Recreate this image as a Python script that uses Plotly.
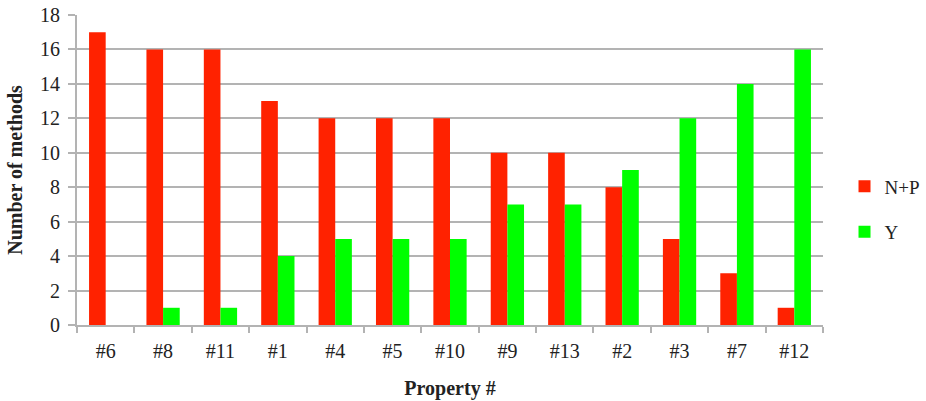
import plotly.graph_objects as go

properties = ["#6", "#8", "#11", "#1", "#4", "#5", "#10", "#9", "#13", "#2", "#3", "#7", "#12"]
n_plus_p = [17, 16, 16, 13, 12, 12, 12, 10, 10, 8, 5, 3, 1]
y_vals = [0, 1, 1, 4, 5, 5, 5, 7, 7, 9, 12, 14, 16]

grid = "#b3b3b3"
font_family = "Liberation Serif, Times New Roman, serif"

fig = go.Figure()
fig.add_trace(go.Bar(x=properties, y=n_plus_p, name="N+P", legendgroup="a",
                     marker=dict(color="#ff2200", line=dict(width=0))))
fig.add_trace(go.Bar(x=properties, y=y_vals, name="Y", legendgroup="b",
                     marker=dict(color="#00ff00", line=dict(width=0))))

fig.update_layout(
    width=926, height=401,
    margin=dict(l=77, r=103, t=15, b=76, autoexpand=False),
    paper_bgcolor="white", plot_bgcolor="white",
    barmode="group", bargap=0.42, bargroupgap=0,
    font=dict(family=font_family, size=20, color="#222222"),
    showlegend=True,
    legend=dict(xref="container", yref="container", x=0.912, y=0.478,
                xanchor="left", yanchor="middle",
                font=dict(size=19, family=font_family), tracegroupgap=18,
                traceorder="grouped", itemwidth=30,
                bgcolor="rgba(0,0,0,0)"),
    xaxis=dict(
        title=dict(text="<b>Property #</b>", font=dict(size=20, family=font_family), standoff=20),
        showline=True, linecolor=grid, linewidth=2, automargin=False,
        ticks="outside", tickson="boundaries", ticklen=6, tickcolor=grid, tickwidth=2,
        ticklabelstandoff=7, showgrid=False,
        tickfont=dict(size=20, family=font_family),
    ),
    yaxis=dict(
        title=dict(text="<b>Number of methods</b>", font=dict(size=20, family=font_family), standoff=12),
        range=[0, 18], dtick=2, automargin=False,
        showline=True, linecolor=grid, linewidth=2,
        showgrid=True, gridcolor=grid, gridwidth=2,
        ticks="outside", ticklen=7, tickcolor=grid, tickwidth=2,
        ticklabelstandoff=4, zeroline=False,
        tickfont=dict(size=20, family=font_family),
    ),
)

fig.write_html("out.html")
